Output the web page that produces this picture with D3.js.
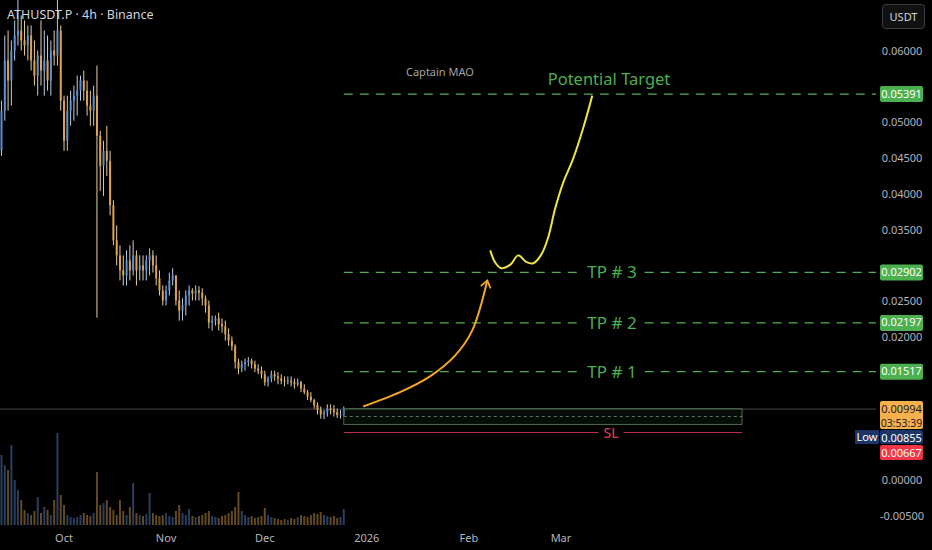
<!DOCTYPE html>
<html>
<head>
<meta charset="utf-8">
<script src="https://cdn.jsdelivr.net/npm/d3@7"></script>
<style>
  html, body { margin: 0; padding: 0; background: #000; }
  svg { display: block; font-family: 'Noto Sans', 'DejaVu Sans', sans-serif; }
</style>
</head>
<body>
<svg id="chart" width="932" height="550"></svg>
<script>
// daily candles from 2025-09-12
const startDate = new Date(Date.UTC(2025, 8, 12))

const opens = [0.0460, 0.0516, 0.0586, 0.0558, 0.0600, 0.0621, 0.0628, 0.0614, 0.0607, 0.0621,
  0.0586, 0.0565, 0.0593, 0.0572, 0.0586, 0.0558, 0.0600, 0.0593, 0.0628, 0.0530,
  0.0474, 0.0516, 0.0530, 0.0537, 0.0544, 0.0558, 0.0544, 0.0523, 0.0516, 0.0537,
  0.0481, 0.0439, 0.0460, 0.0446, 0.0384, 0.0335, 0.0314, 0.0293, 0.0286, 0.0307,
  0.0293, 0.0314, 0.0293, 0.0300, 0.0293, 0.0307, 0.0314, 0.0300, 0.0282, 0.0265,
  0.0251, 0.0265, 0.0279, 0.0286, 0.0251, 0.0237, 0.0244, 0.0258, 0.0265, 0.0261,
  0.0265, 0.0262, 0.0254, 0.0244, 0.0220, 0.0223, 0.0226, 0.0218, 0.0215, 0.0204,
  0.0195, 0.0187, 0.0165, 0.0156, 0.0162, 0.0165, 0.0167, 0.0162, 0.0156, 0.0153,
  0.0148, 0.0137, 0.0142, 0.0148, 0.0145, 0.0142, 0.0139, 0.0138, 0.0139, 0.0137,
  0.0134, 0.0137, 0.0128, 0.0123, 0.0117, 0.0112, 0.0105, 0.0098, 0.0092, 0.0095,
  0.0100, 0.0098, 0.0095, 0.0091, 0.0092]

const highs = [0.0530, 0.0621, 0.0628, 0.0614, 0.0642, 0.0676, 0.0649, 0.0642, 0.0635, 0.0635,
  0.0614, 0.0600, 0.0642, 0.0628, 0.0621, 0.0614, 0.0628, 0.0676, 0.0635, 0.0537,
  0.0537, 0.0544, 0.0551, 0.0565, 0.0565, 0.0572, 0.0558, 0.0544, 0.0551, 0.0579,
  0.0488, 0.0474, 0.0495, 0.0460, 0.0391, 0.0356, 0.0328, 0.0314, 0.0321, 0.0328,
  0.0335, 0.0321, 0.0314, 0.0314, 0.0314, 0.0324, 0.0321, 0.0314, 0.0293, 0.0272,
  0.0272, 0.0290, 0.0296, 0.0286, 0.0265, 0.0254, 0.0265, 0.0272, 0.0268, 0.0272,
  0.0271, 0.0268, 0.0258, 0.0251, 0.0230, 0.0230, 0.0234, 0.0226, 0.0223, 0.0212,
  0.0201, 0.0190, 0.0170, 0.0167, 0.0170, 0.0172, 0.0170, 0.0167, 0.0162, 0.0159,
  0.0153, 0.0145, 0.0153, 0.0153, 0.0151, 0.0148, 0.0145, 0.0145, 0.0145, 0.0142,
  0.0142, 0.0139, 0.0134, 0.0126, 0.0123, 0.0114, 0.0109, 0.0103, 0.0098, 0.0106,
  0.0106, 0.0105, 0.0100, 0.0098, 0.0103]

const lows = [0.0453, 0.0502, 0.0516, 0.0523, 0.0586, 0.0607, 0.0600, 0.0593, 0.0586, 0.0572,
  0.0551, 0.0537, 0.0551, 0.0537, 0.0544, 0.0537, 0.0579, 0.0579, 0.0516, 0.0460,
  0.0460, 0.0495, 0.0502, 0.0509, 0.0530, 0.0530, 0.0509, 0.0495, 0.0495, 0.0227,
  0.0404, 0.0397, 0.0425, 0.0370, 0.0328, 0.0300, 0.0279, 0.0272, 0.0272, 0.0279,
  0.0286, 0.0272, 0.0279, 0.0279, 0.0279, 0.0286, 0.0290, 0.0272, 0.0258, 0.0244,
  0.0244, 0.0258, 0.0272, 0.0244, 0.0223, 0.0223, 0.0230, 0.0244, 0.0251, 0.0251,
  0.0251, 0.0244, 0.0234, 0.0212, 0.0209, 0.0216, 0.0209, 0.0206, 0.0195, 0.0188,
  0.0181, 0.0156, 0.0148, 0.0151, 0.0153, 0.0159, 0.0156, 0.0151, 0.0148, 0.0142,
  0.0132, 0.0131, 0.0137, 0.0139, 0.0134, 0.0134, 0.0131, 0.0134, 0.0131, 0.0128,
  0.0131, 0.0123, 0.0120, 0.0112, 0.0109, 0.0100, 0.0092, 0.0086, 0.00855, 0.0089,
  0.0092, 0.0089, 0.0087, 0.0086, 0.0089]

const closes = [0.0516, 0.0586, 0.0558, 0.0600, 0.0621, 0.0628, 0.0614, 0.0607, 0.0621, 0.0586,
  0.0565, 0.0593, 0.0572, 0.0586, 0.0558, 0.0600, 0.0593, 0.0628, 0.0530, 0.0474,
  0.0516, 0.0530, 0.0537, 0.0544, 0.0558, 0.0544, 0.0523, 0.0516, 0.0537, 0.0481,
  0.0439, 0.0460, 0.0446, 0.0384, 0.0335, 0.0314, 0.0293, 0.0286, 0.0307, 0.0293,
  0.0314, 0.0293, 0.0300, 0.0293, 0.0307, 0.0314, 0.0300, 0.0282, 0.0265, 0.0251,
  0.0265, 0.0279, 0.0286, 0.0251, 0.0237, 0.0244, 0.0258, 0.0265, 0.0261, 0.0265,
  0.0262, 0.0254, 0.0244, 0.0220, 0.0223, 0.0226, 0.0218, 0.0215, 0.0204, 0.0195,
  0.0187, 0.0165, 0.0156, 0.0162, 0.0165, 0.0167, 0.0162, 0.0156, 0.0153, 0.0148,
  0.0137, 0.0142, 0.0148, 0.0145, 0.0142, 0.0139, 0.0138, 0.0139, 0.0137, 0.0134,
  0.0137, 0.0128, 0.0123, 0.0117, 0.0112, 0.0105, 0.0098, 0.0092, 0.0095, 0.0100,
  0.0098, 0.0095, 0.0091, 0.0092, 0.00994]

// volume in millions (arbitrary units)
const volumes = [70, 60, 55, 80, 45, 35, 25, 15, 12, 10,
  14, 28, 12, 18, 15, 10, 25, 92, 30, 20,
  10, 8, 7, 8, 10, 12, 10, 9, 12, 53,
  20, 22, 25, 18, 15, 10, 25, 14, 10, 18,
  42, 12, 10, 9, 11, 32, 12, 10, 9, 10,
  12, 9, 8, 14, 20, 12, 10, 16, 9, 8,
  9, 10, 12, 14, 9, 8, 7, 9, 10, 12,
  14, 18, 33, 14, 10, 8, 9, 7, 8, 9,
  17, 10, 8, 7, 6, 5, 6, 5, 7, 6,
  8, 10, 9, 8, 10, 12, 11, 13, 10, 9,
  8, 9, 7, 8, 16]

const priceTicks = [0.06, 0.055, 0.05, 0.045, 0.04, 0.035, 0.03, 0.025, 0.02, 0.015, 0.01, 0.005, 0, -0.005]
const timeTicks = ['2025-10-01', '2025-11-01', '2025-12-01', '2026-01-01', '2026-02-01', '2026-03-01']
const timeLabels = ['Oct', 'Nov', 'Dec', '2026', 'Feb', 'Mar']

const levelNames = ['Potential Target', 'TP # 3', 'TP # 2', 'TP # 1']
const levelPrices = [0.05391, 0.02902, 0.02197, 0.01517]
const lastPrice = 0.00994
const lowPrice = 0.00855
const stopLoss = 0.00667
const entryDays = [104, 225]
const entryPrices = [0.0100, 0.0078, 0.0089]

// drawn projection, [day from start, price]
const arrowPath = [[109.9, 0.0103], [121.1, 0.0123], [130.2, 0.0145], [137.8, 0.0174], [143.0, 0.0209], [147.6, 0.0279]]
const targetPath = [[148.5, 0.0321], [150.0, 0.0304], [151.8, 0.0296], [154.6, 0.0301], [157.0, 0.0314],
  [159.4, 0.0305], [161.6, 0.0303], [164.0, 0.0315], [166.1, 0.0339], [168.2, 0.0379],
  [170.7, 0.0416], [173.7, 0.0449], [176.7, 0.0491], [179.5, 0.0537]]

const W = 932
const plotRight = 876
const up = '#5b8fd6'
const down = '#e0a24a'
const green = '#4caf50'
const dayMs = 864e5
const toDate = d => new Date(startDate.getTime() + d * dayMs)
const fmt = d3.format('.5f')

const svg = d3.select('#chart')
const defs = svg.append('defs')
svg.append('rect').attr('width', W).attr('height', 550).attr('fill', '#000')

const x = d3.scaleUtc()
  .domain([startDate, new Date(Date.UTC(2026, 2, 1))])
  .range([1.5, 561])
const y = d3.scaleLinear().domain([0, 0.06]).range([480.3, 50.5])
const yVol = d3.scaleLinear().domain([0, 100]).range([525, 425])

const candles = opens.map((o, i) => ({ i, o, h: highs[i], l: lows[i], c: closes[i], v: volumes[i] }))
const step = x(toDate(1)) - x(toDate(0))

defs.append('clipPath').attr('id', 'plot')
  .append('rect').attr('x', 0).attr('y', 0).attr('width', plotRight).attr('height', 528)

const plot = svg.append('g').attr('clip-path', 'url(#plot)')

// volume
plot.append('g')
  .selectAll('rect')
  .data(candles)
  .enter().append('rect')
  .attr('x', d => x(toDate(d.i)) - step * 0.3)
  .attr('width', step * 0.6)
  .attr('y', d => yVol(d.v))
  .attr('height', d => yVol(0) - yVol(d.v))
  .attr('fill', d => d.c >= d.o ? up : down)
  .attr('opacity', 0.45)

// last price line
plot.append('line')
  .attr('x1', 0).attr('x2', plotRight)
  .attr('y1', y(lastPrice)).attr('y2', y(lastPrice))
  .attr('stroke', '#4a4a4a').attr('stroke-width', 1)

// candles
const candle = plot.append('g')
  .selectAll('g')
  .data(candles)
  .enter().append('g')

candle.append('line')
  .attr('x1', d => x(toDate(d.i))).attr('x2', d => x(toDate(d.i)))
  .attr('y1', d => y(d.h)).attr('y2', d => y(d.l))
  .attr('stroke', d => d.c >= d.o ? '#b8cde8' : '#e6cf9f')
  .attr('stroke-width', 1)

candle.append('rect')
  .attr('x', d => x(toDate(d.i)) - step * 0.3)
  .attr('width', step * 0.6)
  .attr('y', d => y(Math.max(d.o, d.c)))
  .attr('height', d => Math.max(1, Math.abs(y(d.o) - y(d.c))))
  .attr('fill', d => d.c >= d.o ? up : down)

// entry zone
const ex0 = x(toDate(entryDays[0]))
const ex1 = x(toDate(entryDays[1]))
plot.append('rect')
  .attr('x', ex0).attr('width', ex1 - ex0)
  .attr('y', y(entryPrices[0])).attr('height', y(entryPrices[1]) - y(entryPrices[0]))
  .attr('fill', 'rgba(76,175,80,0.07)')
  .attr('stroke', '#4d6b4f').attr('stroke-width', 1)
plot.append('line')
  .attr('x1', ex0).attr('x2', ex1)
  .attr('y1', y(entryPrices[2])).attr('y2', y(entryPrices[2]))
  .attr('stroke', '#5f7a60').attr('stroke-width', 1).attr('stroke-dasharray', '3,3')

// stop loss with a gap for its label
const slText = plot.append('text')
  .attr('x', 611).attr('y', y(stopLoss) + 5)
  .attr('text-anchor', 'middle')
  .attr('fill', '#e5405a').attr('font-size', 14)
  .text('SL')
const slBox = slText.node().getBBox()
plot.append('line')
  .attr('x1', ex0).attr('x2', slBox.x - 5)
  .attr('y1', y(stopLoss)).attr('y2', y(stopLoss))
  .attr('stroke', '#b8324a').attr('stroke-width', 1)
plot.append('line')
  .attr('x1', slBox.x + slBox.width + 5).attr('x2', ex1)
  .attr('y1', y(stopLoss)).attr('y2', y(stopLoss))
  .attr('stroke', '#b8324a').attr('stroke-width', 1)

// target levels
levelNames.forEach((name, k) => {
  const ly = y(levelPrices[k])
  const dash = line => line
    .attr('y1', ly).attr('y2', ly)
    .attr('stroke', green).attr('stroke-width', 1.4)
    .attr('stroke-dasharray', '9,7')
  if (k === 0) {
    plot.append('text')
      .attr('x', 609).attr('y', ly - 9)
      .attr('text-anchor', 'middle')
      .attr('fill', green).attr('font-size', 16.5)
      .text(name)
    plot.append('line').attr('x1', ex0).attr('x2', plotRight).call(dash)
  } else {
    const t = plot.append('text')
      .attr('x', 612).attr('y', ly + 6)
      .attr('text-anchor', 'middle')
      .attr('fill', green).attr('font-size', 17)
      .text(name)
    const b = t.node().getBBox()
    plot.append('line').attr('x1', ex0).attr('x2', b.x - 8).call(dash)
    plot.append('line').attr('x1', b.x + b.width + 8).attr('x2', plotRight).call(dash)
  }
})

// projection drawings
defs.append('marker')
  .attr('id', 'head')
  .attr('viewBox', '-8 -6 10 12')
  .attr('markerWidth', 10).attr('markerHeight', 12)
  .attr('markerUnits', 'userSpaceOnUse')
  .attr('orient', 'auto')
  .append('path')
  .attr('d', 'M-7,-5 L0,0 L-7,5')
  .attr('fill', 'none').attr('stroke', '#f5a623').attr('stroke-width', 1.8)

const drawLine = d3.line()
  .x(d => x(toDate(d[0])))
  .y(d => y(d[1]))
  .curve(d3.curveCatmullRom)

plot.append('path')
  .attr('d', drawLine(arrowPath))
  .attr('fill', 'none').attr('stroke', '#f5a623').attr('stroke-width', 2)
  .attr('marker-end', 'url(#head)')

plot.append('path')
  .attr('d', drawLine(targetPath))
  .attr('fill', 'none').attr('stroke', '#f0e441').attr('stroke-width', 2)

plot.append('text')
  .attr('x', 406).attr('y', 76)
  .attr('fill', '#a3a3a3').attr('font-size', 11)
  .text('Captain MAO')

// header
svg.append('text')
  .attr('x', 7).attr('y', 19)
  .attr('fill', '#d1d4dc').attr('font-size', 12.5)
  .text('ATHUSDT.P · 4h · Binance')

// price tags, stacked so they do not overlap
const tags = levelPrices.map(p => ({ top: y(p) - 8, h: 16, fill: green, color: '#fff', lines: [fmt(p)] }))
const lastTop = y(lastPrice) - 8
tags.push({ top: lastTop, h: 28, fill: '#f7b04b', color: '#1a1a1a', lines: [fmt(lastPrice), '03:53:39'] })
const lowTop = Math.max(y(lowPrice) - 7.5, lastTop + 29)
tags.push({ top: lowTop, h: 14, fill: '#1d3566', color: '#fff', lines: [fmt(lowPrice)] })
const slTop = Math.max(y(stopLoss) - 7.5, lowTop + 15)
tags.push({ top: slTop, h: 15, fill: '#f23645', color: '#fff', lines: [fmt(stopLoss)] })

// price axis, labels hidden behind a tag are left out
const covered = v => tags.some(t => y(v) + 6 > t.top && y(v) - 6 < t.top + t.h)
svg.append('g')
  .selectAll('text')
  .data(priceTicks.filter(v => !covered(v)))
  .enter().append('text')
  .attr('x', 902).attr('y', d => y(d) + 4)
  .attr('text-anchor', 'middle')
  .attr('fill', '#b2b5be').attr('font-size', 11)
  .text(d => fmt(d).replace('−', '-'))

// time axis
svg.append('g')
  .selectAll('text')
  .data(timeTicks)
  .enter().append('text')
  .attr('x', d => x(new Date(d + 'T00:00:00Z')))
  .attr('y', 542)
  .attr('text-anchor', 'middle')
  .attr('fill', '#b2b5be').attr('font-size', 11)
  .text((d, i) => timeLabels[i])

// USDT button
svg.append('rect')
  .attr('x', 882.5).attr('y', 4.5).attr('width', 42).attr('height', 24).attr('rx', 3)
  .attr('fill', '#111').attr('stroke', '#3a3d45')
svg.append('text')
  .attr('x', 903.5).attr('y', 20.5)
  .attr('text-anchor', 'middle')
  .attr('fill', '#d1d4dc').attr('font-size', 11)
  .text('USDT')

const tagG = svg.append('g')
  .selectAll('g')
  .data(tags)
  .enter().append('g')
tagG.append('rect')
  .attr('x', 880).attr('y', d => d.top).attr('width', 43).attr('height', d => d.h).attr('rx', 2)
  .attr('fill', d => d.fill)
tagG.each(function (d) {
  d.lines.forEach((s, j) => {
    d3.select(this).append('text')
      .attr('x', 901.5).attr('y', d.top + 11.5 + j * 14)
      .attr('text-anchor', 'middle')
      .attr('fill', d.color).attr('font-size', j ? 10.5 : 11)
      .text(s)
  })
})

svg.append('rect')
  .attr('x', 855).attr('y', lowTop).attr('width', 24).attr('height', 14)
  .attr('fill', '#1d3566')
svg.append('text')
  .attr('x', 867).attr('y', lowTop + 11)
  .attr('text-anchor', 'middle')
  .attr('fill', '#fff').attr('font-size', 11)
  .text('Low')
</script>
</body>
</html>
